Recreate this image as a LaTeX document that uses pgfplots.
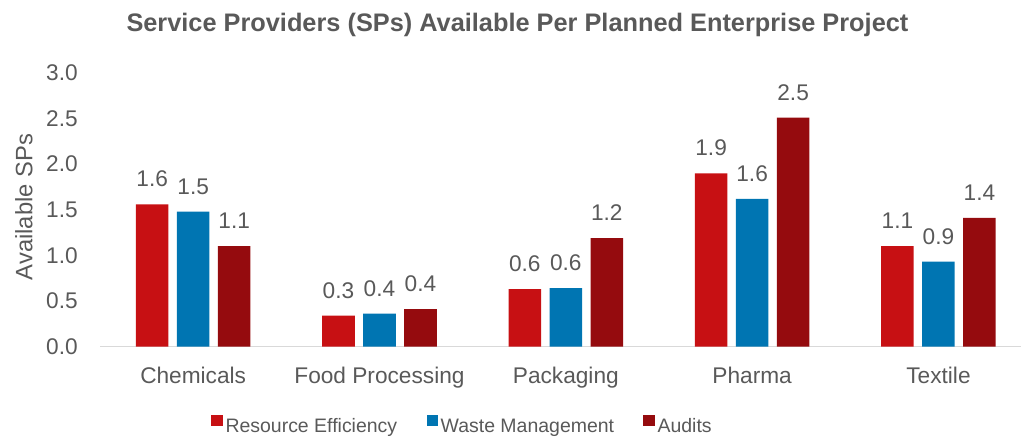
\documentclass[border=0pt]{standalone}
\usepackage{pgfplots}
\pgfplotsset{compat=1.18}
\usepackage{fontspec}
\setmainfont{Liberation Sans}
\definecolor{cRE}{HTML}{C71013}
\definecolor{cWM}{HTML}{0075B2}
\definecolor{cAU}{HTML}{950B0E}
\definecolor{txt}{HTML}{595959}
\definecolor{basec}{HTML}{D9D9D9}
\begin{document}
\begin{tikzpicture}[x=1pt,y=1pt]
\useasboundingbox (0,0) rectangle (765.75,327.75);
\begin{axis}[
  at={(75pt,67.875pt)}, anchor=south west,
  scale only axis, width=690.75pt, height=205.1pt,
  xmin=-0.5, xmax=4.443, ymin=0, ymax=3,
  ybar, bar width=24.4pt,
  every axis plot/.append style={legend image code/.code={\fill[##1] (0pt,0pt) rectangle (8.6pt,8.6pt);}},
  axis x line=bottom, axis y line=left,
  x axis line style={draw=basec, line width=1.1pt, -},
  y axis line style={draw=none},
  major tick length=0pt, tick style={draw=none},
  xtick={0,1,2,3,4},
  xticklabels={Chemicals,Food Processing,Packaging,Pharma,Textile},
  ytick={0,0.5,1,1.5,2,2.5,3},
  /pgf/number format/.cd, fixed, fixed zerofill, precision=1, assume math mode=true, /pgfplots/.cd,
  ticklabel style={font=\fontsize{17pt}{20pt}\selectfont, text=txt},
  yticklabel style={anchor=east, inner sep=0pt, xshift=-16.5pt},
  xticklabel style={anchor=base, inner sep=0pt, yshift=-27.4pt},
  ylabel={Available SPs},
  ylabel style={at={(axis description cs:-0.0825,0.51)}, anchor=center, font=\fontsize{17.8pt}{20pt}\selectfont, text=txt},
  nodes near coords,
  every node near coord/.append style={font=\fontsize{17pt}{20pt}\selectfont, text=txt, anchor=base, inner sep=0pt, yshift=13pt},
  legend style={at={(axis description cs:0.394,-0.291)}, anchor=center, draw=none, fill=none,
    legend columns=3, font=\fontsize{14.6pt}{17pt}\selectfont, text=txt,
    /tikz/every even column/.append style={column sep=20pt}},
  legend cell align=left,
]
\addplot[fill=cRE, draw=none, bar shift=-30.75pt] coordinates {(0,1.56) (1,0.34) (2,0.63) (3,1.90) (4,1.10)};
\addlegendentry{Resource Efficiency}
\addplot[fill=cWM, draw=none, bar shift=0pt] coordinates {(0,1.48) (1,0.36) (2,0.64) (3,1.62) (4,0.93)};
\addlegendentry{Waste Management}
\addplot[fill=cAU, draw=none, bar shift=30.75pt] coordinates {(0,1.10) (1,0.41) (2,1.19) (3,2.51) (4,1.41)};
\addlegendentry{Audits}
\end{axis}
\node[anchor=base, font=\bfseries\fontsize{19pt}{22pt}\selectfont, text=txt] at (388.1,304.5) {Service Providers (SPs) Available Per Planned Enterprise Project};
\end{tikzpicture}
\end{document}
